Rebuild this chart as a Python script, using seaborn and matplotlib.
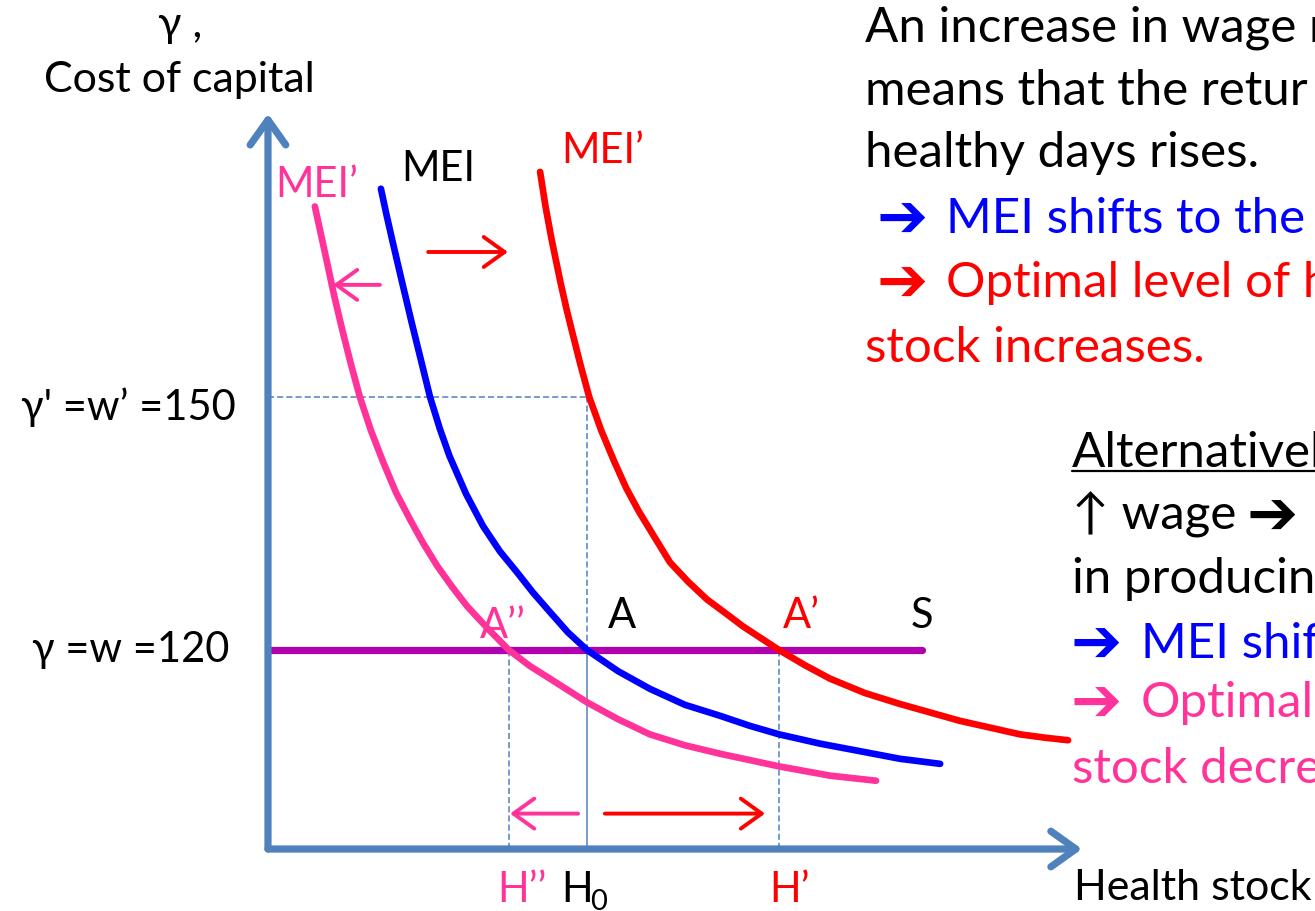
import matplotlib
matplotlib.use("Agg")
import matplotlib.pyplot as plt
import seaborn as sns
import pandas as pd

# health stock (H0 = 100) and cost of capital gamma
mei_h = [35.4, 37.1, 38.9, 41.8, 45.0, 48.0, 50.8, 53.9, 56.9, 62.1, 67.4, 72.7, 78.1, 83.1, 88.4, 94.0,
         100.0, 109.7, 119.7, 130.7, 141.7, 151.1, 160.2, 173.0, 185.6, 198.1, 210.7]
mei_g = [174.7, 171.7, 168.7, 164.0, 158.9, 154.3, 150.0, 146.2, 143.0, 138.5, 134.7, 131.7, 129.2, 126.8, 124.5, 122.1,
         120.0, 117.5, 115.4, 113.5, 112.2, 111.0, 110.0, 108.9, 108.0, 107.1, 106.5]

mei_low_h = [14.7, 16.6, 18.5, 20.7, 23.2, 26.0, 28.8, 32.3, 36.1, 40.1, 44.5, 48.6, 53.0, 57.7, 62.4, 69.0,
             75.5, 82.1, 88.4, 100.0, 109.7, 119.7, 130.7, 141.7, 160.2, 176.2, 190.6]
mei_low_g = [172.6, 169.3, 166.0, 162.1, 158.1, 153.9, 150.0, 146.0, 142.3, 138.7, 135.5, 132.7, 130.0, 127.5, 125.2, 122.5,
             120.0, 118.1, 116.6, 113.8, 111.8, 110.0, 108.7, 107.7, 106.2, 105.1, 104.5]

mei_high_h = [85.3, 87.0, 88.9, 91.8, 93.6, 95.1, 97.9, 100.7, 104.5, 108.6, 112.3, 116.3, 121.3, 126.0, 131.7, 137.6, 143.3,
              148.9, 160.2, 168.3, 176.2, 187.1, 198.1, 216.9, 235.7, 243.6, 250.8]
mei_high_g = [176.7, 172.6, 168.7, 163.4, 160.4, 158.1, 153.9, 150.0, 146.0, 142.3, 139.2, 136.4, 133.3, 130.4, 128.1, 126.0, 124.4,
              122.8, 120.0, 118.2, 116.6, 114.9, 113.6, 111.6, 110.0, 109.6, 109.3]

wage = 120
wage_new = 150
h0, h_low, h_high = 100.0, 75.5, 160.2
s_end = 205.0

BLUE, RED, PINK = "#0000FF", "#FF0000", "#FF3399"
AXIS, PURPLE = "#4F81BD", "#B000B0"

sns.set_style("white")
plt.rcParams["font.family"] = ["Lato", "DejaVu Sans"]

W, H = 1315, 912
fig = plt.figure(figsize=(W / 100, H / 100), dpi=100)
ax = fig.add_axes([0, 0, 1, 1])
ax.set_xlim(-84.0, 328.2)
ax.set_ylim(89.05, 197.2)
ax.axis("off")

y_axis_base = 96.4

# guide lines
ax.hlines(wage_new, 0, h0, color=AXIS, lw=1.1, ls=(0, (4, 2)))
ax.vlines(h0, wage, wage_new, color=AXIS, lw=1.1, ls=(0, (4, 2)))
ax.hlines(wage - 0.25, 0, h0, color=AXIS, lw=1.1, ls=(0, (4, 2)))
ax.vlines(h0, y_axis_base, wage, color=AXIS, lw=1.1)
ax.vlines([h_low, h_high], y_axis_base, wage, color=AXIS, lw=1.1, ls=(0, (4, 2)))

# S line
sns.lineplot(x=[0, s_end], y=[wage, wage], color=PURPLE, lw=5.2, ax=ax)

# MEI curves
curves = pd.DataFrame({
    "h": mei_low_h + mei_h + mei_high_h,
    "g": mei_low_g + mei_g + mei_high_g,
    "curve": ["low"] * len(mei_low_h) + ["base"] * len(mei_h) + ["high"] * len(mei_high_h),
})
sns.lineplot(data=curves, x="h", y="g", hue="curve", units="curve", estimator=None, sort=False,
             palette={"low": PINK, "base": BLUE, "high": RED}, lw=4.8, legend=False, ax=ax)


def arrow(tail, head, color, lw, scale, hl, hw):
    ax.annotate("", xy=head, xytext=tail,
                arrowprops=dict(arrowstyle=f"->,head_length={hl},head_width={hw}",
                                color=color, lw=lw, mutation_scale=scale,
                                shrinkA=0, shrinkB=0, capstyle="round", joinstyle="round"))


# axes
arrow((0, y_axis_base), (0, 183.6), AXIS, 5.2, 40, 0.45, 0.32)
arrow((0, y_axis_base), (255.2, y_axis_base), AXIS, 5.2, 40, 0.45, 0.32)

# shift arrows
arrow((35.1, 163.3), (20.4, 163.3), PINK, 2.8, 30, 0.5, 0.36)
arrow((50.2, 167.2), (75.2, 167.2), RED, 2.8, 30, 0.5, 0.36)
arrow((97.2, 100.6), (75.9, 100.6), PINK, 2.8, 30, 0.5, 0.36)
arrow((105.6, 100.6), (155.8, 100.6), RED, 2.8, 30, 0.5, 0.36)


def put(x, y, s, size=30, color="black", ha="left", **kw):
    return fig.text(x / W, 1 - y / H, s, fontsize=size, color=color, ha=ha, va="baseline", **kw)


def bullet(x, y, color):
    # heavy arrow glyph used as bullet
    return fig.text(x / W, 1 - y / H, "➔", fontsize=44, color=color, ha="left", va="baseline",
                    family="DejaVu Sans", fontweight="bold")


# left / top labels
put(180, 37, "γ ,", ha="center", size=31)
put(179, 92, "Cost of capital", ha="center", size=31)
put(236, 420, "γ' =w’ =150", ha="right", size=30)
put(229, 662, "γ =w =120", ha="right", size=30)

# curve and point labels
put(275, 197, "MEI’", color=PINK)
put(401, 181, "MEI")
put(561, 163, "MEI’", color=RED)
put(480, 638, "A’’", color=PINK)
put(608, 628, "A")
put(783, 628, "A’", color=RED)
put(911, 628, "S")

# x labels
put(497, 902, "H’’", color=PINK)
put(561, 902, "H")
put(590, 910, "0", size=21)
put(769, 902, "H’", color=RED)
put(1074, 900, "Health stock", size=31)

# right-hand explanation
P = 35.5
put(865, 42, "An increase in wage r", size=P)
put(865, 105, "means that the retur", size=P)
put(865, 167, "healthy days rises.", size=P)
bullet(876, 238, BLUE)
put(946, 233, "MEI shifts to the", size=P, color=BLUE)
bullet(876, 302, RED)
put(946, 297, "Optimal level of h", size=P, color=RED)
put(865, 362, "stock increases.", size=P, color=RED)

put(1072, 467, "Alternativel", size=P)
ax.plot([1072 / W, 1.0], [1 - 472 / H] * 2, transform=fig.transFigure, color="black", lw=1.6)
put(1072, 530, "↑ wage", size=P)
bullet(1246, 535, "black")
put(1072, 593, "in producin", size=P)
bullet(1071, 663, BLUE)
put(1141, 658, "MEI shif", size=P, color=BLUE)
bullet(1071, 722, PINK)
put(1141, 717, "Optimal", size=P, color=PINK)
put(1072, 783, "stock decre", size=P, color=PINK)

fig.savefig("out.png", dpi=100)
